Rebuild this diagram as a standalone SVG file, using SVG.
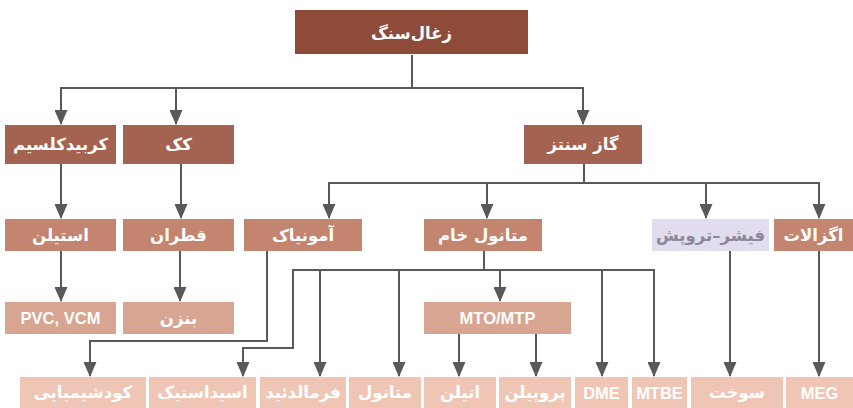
<svg xmlns="http://www.w3.org/2000/svg" width="853" height="408" viewBox="0 0 853 408">
<defs>
<marker id="ah" markerUnits="userSpaceOnUse" markerWidth="15" markerHeight="13" viewBox="0 0 15 13" refX="14" refY="6.5" orient="auto">
<path d="M0,0 L15,6.5 L0,13 z" fill="#595959"/>
</marker>
<style>
text{font-family:"DejaVu Sans","Noto Sans",sans-serif;font-weight:bold;font-size:16.5px;fill:#ffffff;text-anchor:middle;dominant-baseline:central}
.lat{font-family:"Liberation Sans",Arial,sans-serif;font-size:16.5px}
.l1{fill:#8e4b3a}.l2{fill:#a46350}.l3{fill:#c38470}.l4{fill:#d8a592}.l5{fill:#efc6b5}
.ft{fill:#e1dcee}
.ftt{fill:#8c8898}
.c path{fill:none;stroke:#595959;stroke-width:2;marker-end:url(#ah)}
</style>
</defs>
<rect width="853" height="408" fill="#ffffff"/>
<g class="c" id="connectors">
<path d="M412,55 V88 H61 V124"/>
<path d="M412,88 H176 V124"/>
<path d="M412,88 H583 V124"/>
<path d="M584,164 V183 H329 V218"/>
<path d="M584,183 H487 V218"/>
<path d="M584,183 H706 V218"/>
<path d="M584,183 H819 V218"/>
<path d="M61,164 V218"/>
<path d="M181,164 V218"/>
<path d="M61,251 V301"/>
<path d="M180,251 V301"/>
<path d="M267,251 V341 H90 V376"/>
<path d="M484,251 V270 H293 V348 H243 V376"/>
<path d="M484,270 H320 V376"/>
<path d="M484,270 H399 V376"/>
<path d="M484,270 H500 V301"/>
<path d="M484,270 H602 V376"/>
<path d="M484,270 H654 V376"/>
<path d="M459,334 V376"/>
<path d="M536,334 V376"/>
<path d="M730,251 V376"/>
<path d="M819,251 V376"/>
</g>
<g id="coal"><rect class="l1" x="295" y="10" width="233" height="44"/><text x="411.5" y="33">زغال‌سنگ</text></g>
<g id="cac2"><rect class="l2" x="5" y="125" width="111" height="39"/><text x="60.5" y="144">کربیدکلسیم</text></g>
<g id="coke"><rect class="l2" x="123" y="125" width="111" height="39"/><text x="178.5" y="144">کک</text></g>
<g id="syngas"><rect class="l2" x="524" y="125" width="118" height="39"/><text x="583" y="144">گاز سنتز</text></g>
<g id="acetylene"><rect class="l3" x="5" y="219" width="111" height="32"/><text x="60.5" y="235">استیلن</text></g>
<g id="tar"><rect class="l3" x="123" y="219" width="111" height="32"/><text x="178.5" y="235">قطران</text></g>
<g id="ammonia"><rect class="l3" x="244" y="219" width="118" height="32"/><text x="303" y="235">آمونیاک</text></g>
<g id="crudemethanol"><rect class="l3" x="424" y="219" width="118" height="32"/><text x="483" y="235">متانول خام</text></g>
<g id="ft"><rect class="ft" x="652" y="219" width="117" height="32"/><text class="ftt" x="710.5" y="235">فیشر–تروپش</text></g>
<g id="oxalate"><rect class="l3" x="774" y="219" width="79" height="32"/><text x="813.5" y="235">اگزالات</text></g>
<g id="pvc"><rect class="l4" x="5" y="302" width="111" height="32"/><text class="lat" x="60.5" y="318">PVC, VCM</text></g>
<g id="benzene"><rect class="l4" x="123" y="302" width="111" height="32"/><text x="178.5" y="318">بنزن</text></g>
<g id="mto"><rect class="l4" x="424" y="302" width="147" height="32"/><text class="lat" x="497.5" y="318">MTO/MTP</text></g>
<g id="fert"><rect class="l5" x="20" y="377" width="126" height="31"/><text x="83" y="392.5">کودشیمیایی</text></g>
<g id="acetic"><rect class="l5" x="149" y="377" width="107" height="31"/><text x="202.5" y="392.5">اسیداستیک</text></g>
<g id="formaldehyde"><rect class="l5" x="260" y="377" width="86" height="31"/><text x="303" y="392.5">فرمالدئید</text></g>
<g id="methanol"><rect class="l5" x="349" y="377" width="72" height="31"/><text x="385" y="392.5">متانول</text></g>
<g id="ethylene"><rect class="l5" x="424" y="377" width="72" height="31"/><text x="460" y="392.5">اتیلن</text></g>
<g id="propylene"><rect class="l5" x="499" y="377" width="72" height="31"/><text x="535" y="392.5">پروپیلن</text></g>
<g id="dme"><rect class="l5" x="575" y="377" width="53" height="31"/><text class="lat" x="601.5" y="392.5">DME</text></g>
<g id="mtbe"><rect class="l5" x="632" y="377" width="55" height="31"/><text class="lat" x="659.5" y="392.5">MTBE</text></g>
<g id="fuel"><rect class="l5" x="691" y="377" width="92" height="31"/><text x="737" y="392.5">سوخت</text></g>
<g id="meg"><rect class="l5" x="786" y="377" width="67" height="31"/><text class="lat" x="819.5" y="392.5">MEG</text></g>
</svg>
